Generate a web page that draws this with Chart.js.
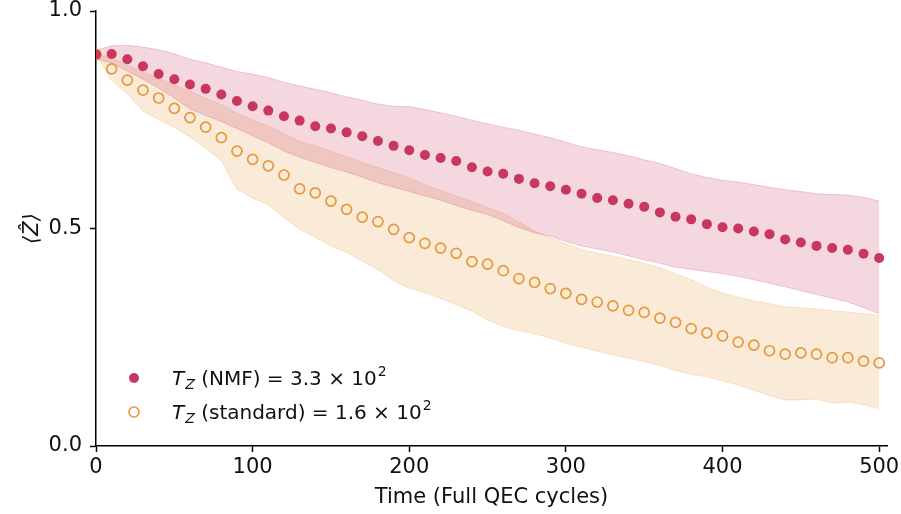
<!DOCTYPE html>
<html><head><meta charset="utf-8">
<script src="https://cdn.jsdelivr.net/npm/chart.js@4.4.1/dist/chart.umd.min.js"></script>
<style>html,body{margin:0;padding:0;background:#fff;}#wrap{width:901px;height:514px;}</style>
</head><body><div id="wrap"><canvas id="c" width="901" height="514"></canvas></div>
<script>
const cycles = [0,10,20,30,40,50,60,70,80,90,100,110,120,130,140,150,160,170,180,190,200,210,220,230,240,250,260,270,280,290,300,310,320,330,340,350,360,370,380,390,400,410,420,430,440,450,460,470,480,490,500];
const nmfMean = [0.900,0.901,0.889,0.873,0.855,0.843,0.831,0.821,0.808,0.793,0.781,0.771,0.758,0.748,0.735,0.730,0.721,0.712,0.701,0.690,0.680,0.669,0.662,0.655,0.641,0.631,0.626,0.614,0.604,0.597,0.589,0.580,0.570,0.565,0.557,0.550,0.537,0.527,0.521,0.510,0.503,0.500,0.493,0.487,0.475,0.468,0.460,0.455,0.451,0.442,0.432];
const nmfUpper = [0.910,0.920,0.921,0.917,0.911,0.902,0.889,0.881,0.871,0.861,0.855,0.847,0.836,0.828,0.820,0.812,0.803,0.795,0.786,0.781,0.780,0.774,0.766,0.758,0.749,0.741,0.733,0.726,0.717,0.709,0.698,0.688,0.681,0.675,0.667,0.658,0.650,0.638,0.626,0.617,0.611,0.607,0.601,0.595,0.589,0.585,0.580,0.578,0.577,0.572,0.563];
const nmfLower = [0.890,0.880,0.862,0.843,0.823,0.800,0.775,0.760,0.746,0.730,0.713,0.697,0.678,0.664,0.652,0.640,0.630,0.618,0.605,0.595,0.585,0.575,0.565,0.553,0.542,0.532,0.518,0.502,0.490,0.482,0.470,0.460,0.453,0.446,0.437,0.428,0.420,0.411,0.406,0.401,0.396,0.390,0.382,0.374,0.366,0.357,0.348,0.340,0.331,0.318,0.304];
const stdMean = [0.900,0.867,0.841,0.818,0.800,0.776,0.755,0.733,0.709,0.678,0.659,0.644,0.623,0.591,0.582,0.563,0.544,0.526,0.516,0.498,0.479,0.466,0.455,0.443,0.424,0.418,0.403,0.385,0.376,0.362,0.351,0.337,0.331,0.322,0.312,0.307,0.294,0.284,0.270,0.260,0.253,0.239,0.232,0.219,0.211,0.214,0.211,0.203,0.203,0.195,0.191];
const stdUpper = [0.900,0.893,0.875,0.860,0.845,0.830,0.815,0.800,0.785,0.765,0.750,0.735,0.718,0.700,0.690,0.678,0.665,0.652,0.640,0.628,0.616,0.600,0.588,0.575,0.562,0.548,0.535,0.515,0.495,0.478,0.465,0.452,0.443,0.437,0.428,0.420,0.410,0.396,0.382,0.365,0.352,0.342,0.334,0.327,0.320,0.318,0.315,0.311,0.308,0.304,0.300];
const stdLower = [0.900,0.840,0.810,0.770,0.750,0.733,0.710,0.685,0.655,0.590,0.570,0.555,0.525,0.498,0.480,0.460,0.445,0.425,0.405,0.380,0.363,0.352,0.339,0.325,0.310,0.290,0.275,0.265,0.258,0.248,0.236,0.227,0.218,0.209,0.202,0.194,0.185,0.173,0.165,0.159,0.150,0.140,0.128,0.116,0.106,0.106,0.108,0.098,0.101,0.095,0.086];
const xTicks = [0,100,200,300,400,500];
const yTicks = [0.0,0.5,1.0];
const legendRows = [
  {sym:'T', sub:'Z', text:' (NMF) = 3.3 \u00d7 10', sup:'2', filled:true},
  {sym:'T', sub:'Z', text:' (standard) = 1.6 \u00d7 10', sup:'2', filled:false}
];
const xTitle = 'Time (Full QEC cycles)';
const yTitle = '\u27e8\u1e90\u27e9';

const RED = 'rgb(200,55,95)';
const ORANGE = 'rgb(230,152,60)';
const FONT = '"DejaVu Sans", sans-serif';

const pts = arr => cycles.map((t,i)=>({x:t,y:arr[i]}));

const legendPlugin = {
  id:'mathLegend',
  afterDraw(chart){
    const ctx = chart.ctx, a = chart.chartArea;
    ctx.save();
    legendRows.forEach((r,i)=>{
      const cy = a.bottom - 68 + i*34;
      const mx = a.left + 38;
      ctx.beginPath();
      ctx.arc(mx, cy, 5, 0, Math.PI*2);
      if (r.filled){ ctx.fillStyle = RED; ctx.fill(); }
      else { ctx.strokeStyle = ORANGE; ctx.lineWidth = 1.6; ctx.stroke(); }
      let x = a.left + 76;
      const base = cy + 7;
      ctx.fillStyle = '#111';
      ctx.textBaseline = 'alphabetic';
      ctx.font = 'italic 20px ' + FONT;
      ctx.fillText(r.sym, x, base); x += ctx.measureText(r.sym).width + 1;
      ctx.font = 'italic 14px ' + FONT;
      ctx.fillText(r.sub, x, base + 4); x += ctx.measureText(r.sub).width;
      ctx.font = '20px ' + FONT;
      ctx.fillText(r.text, x, base); x += ctx.measureText(r.text).width + 1;
      ctx.font = '14px ' + FONT;
      ctx.fillText(r.sup, x, base - 9);
    });
    ctx.restore();
  }
};

new Chart(document.getElementById('c'), {
  type:'scatter',
  data:{datasets:[
    {data:pts(nmfMean), showLine:false, pointRadius:5, pointHoverRadius:5, pointBackgroundColor:RED, pointBorderWidth:0, pointBorderColor:RED, order:0, clip:0},
    {data:pts(stdMean), showLine:false, pointRadius:5, pointHoverRadius:5, pointBackgroundColor:'rgba(0,0,0,0)', pointBorderColor:ORANGE, pointBorderWidth:1.7, order:1, clip:0},
    {data:pts(nmfUpper), showLine:true, fill:'+1', backgroundColor:'rgba(200,55,95,0.2)', borderColor:'rgba(200,55,95,0.22)', borderWidth:1, pointRadius:0, order:2, clip:0, tension:0},
    {data:pts(nmfLower), showLine:true, fill:false, borderColor:'rgba(200,55,95,0.22)', borderWidth:1, pointRadius:0, order:3, clip:0},
    {data:pts(stdUpper), showLine:true, fill:'+1', backgroundColor:'rgba(232,150,60,0.2)', borderColor:'rgba(232,150,60,0.22)', borderWidth:1, pointRadius:0, order:4, clip:0},
    {data:pts(stdLower), showLine:true, fill:false, borderColor:'rgba(232,150,60,0.22)', borderWidth:1, pointRadius:0, order:5, clip:0}
  ]},
  options:{
    responsive:false, animation:false, events:[],
    layout:{padding:{top:11,right:14,left:0,bottom:0}},
    plugins:{legend:{display:false}, tooltip:{enabled:false}},
    scales:{
      x:{type:'linear', min:0, max:505,
        afterBuildTicks:s=>{s.ticks = xTicks.map(v=>({value:v}));},
        afterFit:s=>{s.height = 68; s.paddingLeft = 0; s.paddingRight = 0;},
        grid:{display:true, drawOnChartArea:false, drawTicks:true, tickLength:6, tickWidth:1.5, tickColor:'#000'},
        border:{display:true, color:'#000', width:1.5},
        ticks:{color:'#111', font:{family:FONT, size:21}, padding:3, maxRotation:0},
        title:{display:true, text:xTitle, color:'#111', font:{family:FONT, size:21}, padding:{top:0,bottom:4}}
      },
      y:{type:'linear', min:0, max:1,
        afterBuildTicks:s=>{s.ticks = yTicks.map(v=>({value:v}));},
        afterFit:s=>{s.width = 96; s.paddingTop = 0; s.paddingBottom = 0;},
        grid:{display:true, drawOnChartArea:false, drawTicks:true, tickLength:6, tickWidth:1.5, tickColor:'#000'},
        border:{display:true, color:'#000', width:1.5},
        ticks:{color:'#111', font:{family:FONT, size:21}, padding:8, callback:v=>v.toFixed(1)},
        title:{display:true, text:yTitle, color:'#111', font:{family:FONT, size:21, style:'italic'}, padding:{top:20,bottom:0}}
      }
    }
  },
  plugins:[legendPlugin]
});
</script></body></html>
